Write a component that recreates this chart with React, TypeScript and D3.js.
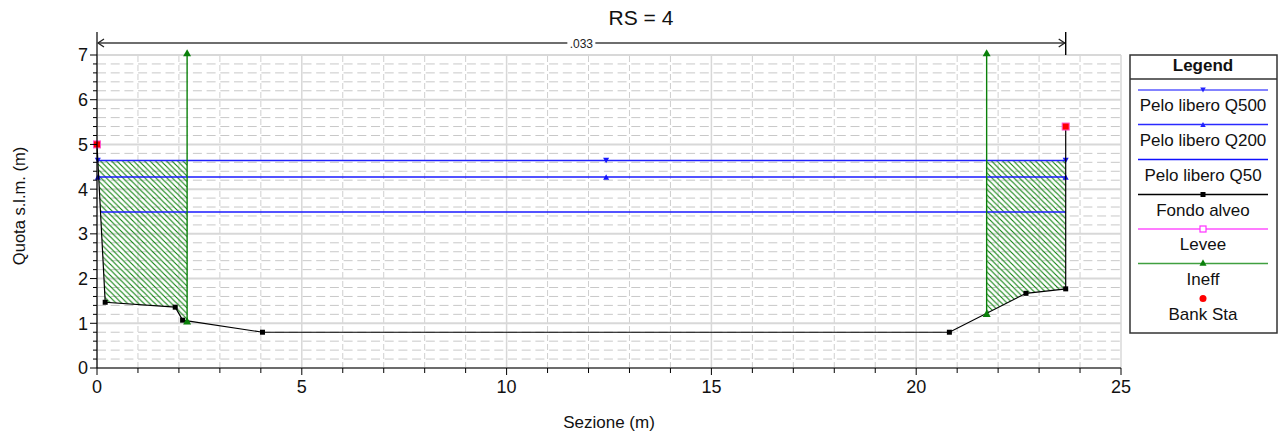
import React from "react";
import * as d3 from "d3";

// ---- data ----
const groundSta = [0, 0.2, 1.91, 2.09, 4.04, 20.81, 22.68, 23.65, 23.65];
const groundElev = [5.0, 1.47, 1.36, 1.07, 0.8, 0.8, 1.67, 1.77, 5.4];
const bankSta = [0, 23.65];
const bankElev = [5.0, 5.4];
const wsNames = ["Pelo libero Q500", "Pelo libero Q200", "Pelo libero Q50"];
const wsElev = [4.64, 4.27, 3.49];
const wsStart = [0.02, 0.04, 0.085];
const wsEnd = [23.65, 23.65, 23.65];
const wsMarkSta = [0.02, 12.43, 23.65];
const ineffSta = [2.2, 21.72];
const ineffTop = 7.05;
const nValue = ".033";
const xTicks = [0, 5, 10, 15, 20, 25];
const yTicks = [0, 1, 2, 3, 4, 5, 6, 7];
const legendLabels = ["Pelo libero Q500", "Pelo libero Q200", "Pelo libero Q50", "Fondo alveo", "Levee", "Ineff", "Bank Sta"];

const W = 1281, H = 437;
const FONT = "Arial, 'Liberation Sans', sans-serif";

function groundAt(x: number): number {
  for (let i = 0; i < groundSta.length - 1; i++) {
    const a = groundSta[i], b = groundSta[i + 1];
    if (x >= a && x <= b && b > a) {
      return groundElev[i] + (groundElev[i + 1] - groundElev[i]) * (x - a) / (b - a);
    }
  }
  return groundElev[groundElev.length - 1];
}

export default function App() {
  const x = d3.scaleLinear().domain([0, 25]).range([97, 1121]);
  const y = d3.scaleLinear().domain([0, 7]).range([368, 55]);
  const line = d3.line<[number, number]>().x(d => x(d[0])).y(d => y(d[1]));

  const minorY = d3.range(1, 35).map(i => i * 0.2).filter(v => Math.abs(v - Math.round(v)) > 1e-6);
  const minorX = d3.range(1, 25).filter(v => v % 5 !== 0);

  const ground: [number, number][] = groundSta.map((s, i) => [s, groundElev[i]]);
  const topWs = wsElev[0];

  const leftPoly: [number, number][] = [[wsStart[0], topWs]];
  groundSta.forEach((s, i) => { if (s > wsStart[0] && s < ineffSta[0] && groundElev[i] < topWs) leftPoly.push([s, groundElev[i]]); });
  leftPoly.push([ineffSta[0], groundAt(ineffSta[0])], [ineffSta[0], topWs]);
  const rightPoly: [number, number][] = [[ineffSta[1], topWs], [ineffSta[1], groundAt(ineffSta[1])]];
  groundSta.forEach((s, i) => { if (s > ineffSta[1] && groundElev[i] < topWs) rightPoly.push([s, groundElev[i]]); });
  rightPoly.push([wsEnd[0], topWs]);

  const tri = (cx: number, cy: number, s: number, down: boolean) => {
    const h = s * 0.9;
    return down
      ? `M${cx - s / 2},${cy - h / 2}L${cx + s / 2},${cy - h / 2}L${cx},${cy + h / 2}Z`
      : `M${cx - s / 2},${cy + h / 2}L${cx + s / 2},${cy + h / 2}L${cx},${cy - h / 2}Z`;
  };

  const dimY = 43;
  const dimX0 = x(bankSta[0]), dimX1 = x(bankSta[1]);

  const lgX0 = 1130, lgX1 = 1277, lgY0 = 55, lgY1 = 333;
  const lgCx = 1203;
  const lgLineY = [90, 124.5, 159.5, 194.5, 229, 263.5, 298.5];
  const lgTextY = [111, 145.5, 181, 216, 250, 285, 320];
  const lgLineColor = ["#5a5aff", "#2a2aff", "#1010ff", "#000", "#ff50ff", "#40a040", null];

  return (
    <svg width={W} height={H} style={{ position: "absolute", left: 0, top: 0, background: "#fff" }} fontFamily={FONT}>
      <defs>
        <pattern id="hatch" patternUnits="userSpaceOnUse" width={5.5} height={5.5}>
          <path d="M-1,-1L6.5,6.5M-1,4.5L1,6.5M4.5,-1L6.5,1" stroke="#0a800a" strokeWidth={1.1} />
        </pattern>
      </defs>

      <g>
        {minorY.map(v => (
          <line key={"my" + v} x1={x(0)} x2={x(25)} y1={y(v)} y2={y(v)} stroke="#c8c8c8" strokeWidth={1} strokeDasharray="9 4.7" />
        ))}
        {minorX.map(v => (
          <line key={"mx" + v} x1={x(v)} x2={x(v)} y1={y(0)} y2={y(7)} stroke="#cfcfcf" strokeWidth={1} strokeDasharray="6 3" />
        ))}
        {yTicks.map(v => (
          <line key={"gy" + v} x1={x(0)} x2={x(25)} y1={y(v)} y2={y(v)} stroke="#d8d8d8" strokeWidth={2} />
        ))}
        {xTicks.map(v => (
          <line key={"gx" + v} x1={x(v)} x2={x(v)} y1={y(0)} y2={y(7)} stroke="#d8d8d8" strokeWidth={1.5} />
        ))}
      </g>

      <path d={line(leftPoly) + "Z"} fill="url(#hatch)" stroke="none" />
      <path d={line(rightPoly) + "Z"} fill="url(#hatch)" stroke="none" />

      {wsElev.map((e, i) => (
        <line key={"ws" + i} x1={x(wsStart[i])} x2={x(wsEnd[i])} y1={y(e)} y2={y(e)} stroke={i === 0 ? "#2020ff" : "#1a1aff"} strokeWidth={1.4} />
      ))}
      {wsMarkSta.map((s, j) => (
        <path key={"m500" + j} d={tri(x(s), y(wsElev[0]), 6, true)} fill="#1515ff" />
      ))}
      {wsMarkSta.map((s, j) => (
        <path key={"m200" + j} d={tri(x(s), y(wsElev[1]), 6, false)} fill="#1515ff" />
      ))}

      {ineffSta.map((s, i) => (
        <g key={"in" + i}>
          <line x1={x(s)} x2={x(s)} y1={y(groundAt(s))} y2={y(ineffTop)} stroke="#0a800a" strokeWidth={1.4} />
          <path d={tri(x(s), y(ineffTop), 8, false)} fill="#0a800a" />
        </g>
      ))}

      <path d={line(ground) || ""} fill="none" stroke="#000" strokeWidth={1.2} />
      {ground.map((p, i) => (
        <rect key={"g" + i} x={x(p[0]) - 2.5} y={y(p[1]) - 2.5} width={5} height={5} fill="#000" />
      ))}
      {ineffSta.map((s, i) => (
        <path key={"ig" + i} d={tri(x(s), y(groundAt(s)), 8, false)} fill="#0a800a" />
      ))}

      {bankSta.map((s, i) => (
        <rect key={"b" + i} x={x(s) - 3.5} y={y(bankElev[i]) - 3.5} width={7} height={7} fill="#ff0000" stroke="#ff55cc" strokeWidth={1} />
      ))}

      <line x1={x(0)} x2={x(25)} y1={y(0)} y2={y(0)} stroke="#000" strokeWidth={1.2} />
      <line x1={x(0)} x2={x(0)} y1={y(0)} y2={32} stroke="#000" strokeWidth={1.2} />
      {d3.range(0, 36).map(i => {
        const v = i * 0.2;
        const major = Math.abs(v - Math.round(v)) < 1e-6;
        return <line key={"yt" + i} x1={x(0) - (major ? 7 : 4)} x2={x(0)} y1={y(v)} y2={y(v)} stroke="#000" strokeWidth={1} />;
      })}
      {d3.range(0, 26).map(v => (
        <line key={"xt" + v} x1={x(v)} x2={x(v)} y1={y(0)} y2={y(0) + (v % 5 === 0 ? 7 : 5)} stroke="#000" strokeWidth={1} />
      ))}
      {yTicks.map(v => (
        <text key={"yl" + v} x={88} y={y(v)} dy="0.36em" textAnchor="end" fontSize={18} fill="#111">{v}</text>
      ))}
      {xTicks.map(v => (
        <text key={"xl" + v} x={x(v)} y={393} textAnchor="middle" fontSize={18} fill="#111">{v}</text>
      ))}

      <line x1={dimX0} x2={dimX1} y1={dimY} y2={dimY} stroke="#6e6e6e" strokeWidth={2} />
      <path d={`M${dimX0 + 7},${dimY - 4}L${dimX0 + 1},${dimY}L${dimX0 + 7},${dimY + 4}`} fill="none" stroke="#222" strokeWidth={1.3} />
      <path d={`M${dimX1 - 7},${dimY - 4}L${dimX1 - 1},${dimY}L${dimX1 - 7},${dimY + 4}`} fill="none" stroke="#222" strokeWidth={1.3} />
      <line x1={dimX1} x2={dimX1} y1={32} y2={55} stroke="#000" strokeWidth={1.4} />
      <rect x={(dimX0 + dimX1) / 2 - 14} y={dimY - 6} width={28} height={12} fill="#fff" />
      <text x={(dimX0 + dimX1) / 2} y={dimY + 4.5} textAnchor="middle" fontSize={12} fill="#222">{nValue}</text>

      <text x={641} y={25} textAnchor="middle" fontSize={21} fill="#111">RS = 4</text>
      <text x={609} y={428} textAnchor="middle" fontSize={17} fill="#111">Sezione (m)</text>
      <text transform={`translate(25,206) rotate(-90)`} textAnchor="middle" fontSize={16.5} fill="#111">Quota s.l.m. (m)</text>

      <rect x={lgX0} y={lgY0} width={lgX1 - lgX0} height={lgY1 - lgY0} fill="#fff" stroke="#333" strokeWidth={1.5} />
      <line x1={lgX0} x2={lgX1} y1={79} y2={79} stroke="#333" strokeWidth={1.5} />
      <text x={lgCx} y={71} textAnchor="middle" fontSize={17} fontWeight="bold" fill="#111">Legend</text>
      {legendLabels.map((lab, i) => (
        <g key={"lg" + i}>
          {lgLineColor[i] && (
            <line x1={1138} x2={1268} y1={lgLineY[i]} y2={lgLineY[i]} stroke={lgLineColor[i] as string} strokeWidth={1.3} />
          )}
          {i === 0 && <path d={tri(lgCx, lgLineY[i], 5.5, true)} fill="#2222ff" />}
          {i === 1 && <path d={tri(lgCx, lgLineY[i], 5.5, false)} fill="#2222ff" />}
          {i === 3 && <rect x={lgCx - 2.5} y={lgLineY[i] - 2.5} width={5} height={5} fill="#000" />}
          {i === 4 && <rect x={lgCx - 3} y={lgLineY[i] - 3} width={6} height={6} fill="#fff" stroke="#ff30ff" strokeWidth={1.2} />}
          {i === 5 && <path d={tri(lgCx, lgLineY[i] - 1, 7, false)} fill="#0a800a" />}
          {i === 6 && <circle cx={lgCx} cy={lgLineY[i]} r={3.5} fill="#ff0000" />}
          <text x={lgCx} y={lgTextY[i]} textAnchor="middle" fontSize={17} fill="#111">{lab}</text>
        </g>
      ))}
    </svg>
  );
}
